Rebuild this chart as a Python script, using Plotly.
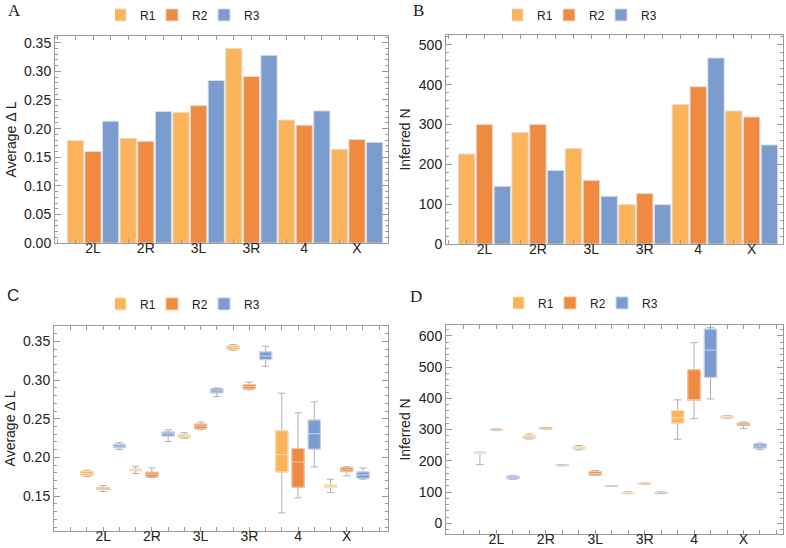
import plotly.graph_objects as go

chroms = ["2L", "2R", "3L", "3R", "4", "X"]
reps = ["R1", "R2", "R3"]
colors = {"R1": "#FBB45A", "R2": "#EF8A40", "R3": "#7A9CCF"}
tints = {"R1": "#FDE2BE", "R2": "#F8C8A4", "R3": "#CBD8EE"}

# A: average delta L (bars)
dl_r1 = [0.179, 0.183, 0.228, 0.340, 0.215, 0.164]
dl_r2 = [0.160, 0.178, 0.240, 0.291, 0.206, 0.181]
dl_r3 = [0.213, 0.230, 0.284, 0.328, 0.231, 0.176]

# B: inferred N (bars)
n_r1 = [226, 280, 240, 99, 350, 334]
n_r2 = [300, 300, 160, 127, 395, 319]
n_r3 = [145, 185, 120, 99, 467, 249]

# C: average delta L boxes, (low, q1, median, q3, high) per chromosome
dl_box_r1 = [(0.1753, 0.1766, 0.1792, 0.1822, 0.1835), (0.1792, 0.1830, 0.1839, 0.1848, 0.1886),
             (0.2247, 0.2264, 0.2281, 0.2294, 0.2320), (0.3384, 0.3393, 0.3423, 0.3444, 0.3457),
             (0.1285, 0.1813, 0.2036, 0.2345, 0.2830), (0.1547, 0.1612, 0.1629, 0.1641, 0.1719)]
dl_box_r2 = [(0.1560, 0.1586, 0.1599, 0.1612, 0.1637), (0.1740, 0.1749, 0.1783, 0.1809, 0.1865),
             (0.2358, 0.2371, 0.2406, 0.2431, 0.2457), (0.2873, 0.2886, 0.2916, 0.2942, 0.2972),
             (0.1479, 0.1616, 0.1942, 0.2114, 0.2577), (0.1762, 0.1818, 0.1843, 0.1869, 0.1882)]
dl_box_r3 = [(0.2105, 0.2127, 0.2148, 0.2170, 0.2191), (0.2208, 0.2277, 0.2307, 0.2328, 0.2358),
             (0.2788, 0.2835, 0.2860, 0.2886, 0.2899), (0.3178, 0.3264, 0.3311, 0.3363, 0.3436),
             (0.1878, 0.2109, 0.2307, 0.2483, 0.2719), (0.1719, 0.1732, 0.1775, 0.1813, 0.1865)]

# D: inferred N boxes
n_box_r1 = [(188, 224, 225, 227, 228), (270, 273, 277, 281, 286), (235, 239, 243, 246, 249),
            (95, 97, 98, 99, 101), (269, 321, 338, 361, 395), (336, 338, 341, 343, 345)]
n_box_r2 = [(298, 299, 300, 301, 302), (302, 302.5, 304, 305.5, 306), (154, 155, 160, 166, 169),
            (126, 127, 127.5, 128, 129), (335, 393, 396, 491, 578), (303, 314, 318, 321, 324)]
n_box_r3 = [(141, 143, 148, 151, 153), (184, 185, 186, 187, 188), (119, 119.5, 120, 120.5, 121),
            (95, 97, 98, 99, 101), (398, 467, 554, 621, 626), (236, 241, 247, 254, 257)]

bar_data = {"A": [dl_r1, dl_r2, dl_r3], "B": [n_r1, n_r2, n_r3]}
box_data = {"C": [dl_box_r1, dl_box_r2, dl_box_r3], "D": [n_box_r1, n_box_r2, n_box_r3]}

# x position of replicate r in chromosome group g
def xpos(r):
    return [3 * g + r for g in range(len(chroms))]

fig = go.Figure()

# bar panels
for panel, ax, leg in [("A", "", "legend"), ("B", "2", "legend2")]:
    for r, rep in enumerate(reps):
        fig.add_trace(go.Bar(
            x=xpos(r), y=bar_data[panel][r], width=0.92, name=rep,
            marker_color=colors[rep], marker_line=dict(color="rgba(225,220,215,1)", width=1),
            xaxis="x" + ax, yaxis="y" + ax, legend=leg,
        ))

# box panels: grey whiskers underneath, coloured box with light median on top
for panel, ax, leg in [("C", "3", "legend3"), ("D", "4", "legend4")]:
    for r, rep in enumerate(reps):
        st = box_data[panel][r]
        lo = [s[0] for s in st]
        q1 = [s[1] for s in st]
        med = [s[2] for s in st]
        q3 = [s[3] for s in st]
        hi = [s[4] for s in st]
        fig.add_trace(go.Box(
            x=xpos(r), q1=q1, median=med, q3=q3, lowerfence=lo, upperfence=hi,
            width=0.75, whiskerwidth=0.6, fillcolor=colors[rep],
            line=dict(color="#B0B0B0", width=1), showlegend=False,
            xaxis="x" + ax, yaxis="y" + ax,
        ))
        fig.add_trace(go.Box(
            x=xpos(r), q1=q1, median=med, q3=q3, lowerfence=q1, upperfence=q3,
            width=0.75, whiskerwidth=0, fillcolor=colors[rep], name=rep,
            line=dict(color=tints[rep], width=1),
            xaxis="x" + ax, yaxis="y" + ax, legend=leg,
        ))

W, H = 786, 548
axcol = "#9A9A9A"
tickfont = dict(family="Liberation Sans, Arial, sans-serif", size=14, color="#222")


def xaxis(dom, rng, anchor):
    return dict(
        domain=dom, range=rng, anchor=anchor, showline=True, mirror="ticks",
        linecolor=axcol, linewidth=1, ticks="inside", ticklen=4, tickcolor=axcol,
        tickvals=[3 * g + 1 for g in range(len(chroms))], ticktext=chroms,
        minor=dict(ticks="inside", ticklen=4, tickcolor=axcol, dtick=1, tick0=0),
        showgrid=False, zeroline=False, tickfont=tickfont, automargin=False,
        ticklabelstandoff=-8,
    )


def yaxis(dom, rng, anchor, title, dtick, mdtick, fmt):
    return dict(
        domain=dom, range=rng, anchor=anchor, showline=True, mirror="ticks",
        linecolor=axcol, linewidth=1, ticks="inside", ticklen=6, tickcolor=axcol,
        dtick=dtick, tickformat=fmt, automargin=False,
        minor=dict(ticks="inside", ticklen=3, tickcolor=axcol, dtick=mdtick),
        showgrid=False, zeroline=False, tickfont=tickfont,
        title=dict(text=title, font=dict(family="Liberation Sans, Arial, sans-serif", size=14, color="#222"), standoff=4),
    )


def px_x(a, b):
    return [a / W, b / W]


def px_y(top, bottom):
    return [1 - bottom / H, 1 - top / H]


fig.update_layout(
    xaxis=xaxis(px_x(55, 388), [-1.16, 17.76], "y"),
    yaxis=yaxis(px_y(34, 242), [0, 0.362], "x", "Average Δ L", 0.05, 0.01, ".2f"),
    xaxis2=xaxis(px_x(446, 783), [-1.16, 17.76], "y2"),
    yaxis2=yaxis(px_y(33, 243), [0, 525], "x2", "Inferred N", 100, 20, "d"),
    xaxis3=xaxis(px_x(54, 388), [-2.03, 18.54], "y3"),
    yaxis3=yaxis(px_y(325, 531), [0.105, 0.370], "x3", "Average Δ L", 0.05, 0.01, ".2f"),
    xaxis4=xaxis(px_x(446, 783), [-2.06, 18.4], "y4"),
    yaxis4=yaxis(px_y(324, 534), [-34, 635], "x4", "Inferred N", 100, 20, "d"),
    barmode="overlay", boxmode="overlay",
    width=W, height=H, margin=dict(l=0, r=0, t=0, b=0),
    plot_bgcolor="white", paper_bgcolor="white",
    font=dict(family="Liberation Sans, Arial, sans-serif", color="#222"),
)

legfont = dict(family="Liberation Sans, Arial, sans-serif", size=12, color="#222")
for name, cx, cy in [("legend", 193, 13), ("legend2", 590, 13), ("legend3", 193, 303), ("legend4", 591, 302)]:
    fig.update_layout({name: dict(
        orientation="h", x=cx / W, y=1 - cy / H, xanchor="center", yanchor="middle",
        font=legfont, itemwidth=30, indentation=-15, entrywidth=22,
        bgcolor="rgba(0,0,0,0)", traceorder="normal",
    )})

letters = [("A", 14, 9, "Liberation Serif, serif"), ("B", 418, 9, "Liberation Serif, serif"),
           ("C", 13, 295, "Liberation Sans, Arial, sans-serif"), ("D", 416, 296, "Liberation Serif, serif")]
for txt, lx, ly, fam in letters:
    fig.add_annotation(text=txt, x=lx / W, y=1 - ly / H, xref="paper", yref="paper",
                       xanchor="center", yanchor="middle",
                       showarrow=False, font=dict(family=fam, size=17, color="#222"))

# drop the default page margin so the figure sits at the window's corner
fig.write_html("out.html", config={"displayModeBar": False},
               post_script="document.body.style.margin='0';")
